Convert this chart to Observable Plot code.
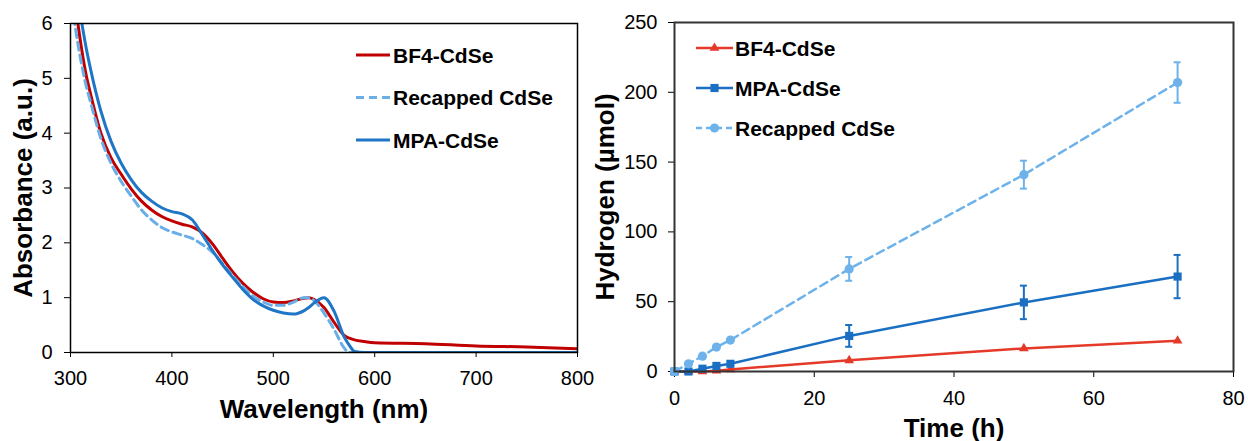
<!DOCTYPE html>
<html>
<head>
<meta charset="utf-8">
<script src="https://cdn.jsdelivr.net/npm/d3@7"></script>
<script src="https://cdn.jsdelivr.net/npm/@observablehq/plot@0.6"></script>
<style>
  body { margin: 0; background: #fff; }
  #chart { position: relative; width: 1248px; height: 441px; font-family: "Liberation Sans", Arial, sans-serif; }
  #chart svg { position: absolute; left: 0; top: 0; }
</style>
</head>
<body>
<div id="chart"></div>
<script>
// ---- Absorption spectra (left panel) ----
const wavelength = [300,305,310,315,320,330,340,350,360,370,380,390,400,410,420,430,440,450,460,470,480,490,500,510,520,530,535,540,550,560,570,575,580,590,600,650,700,750,800];
const bf4Abs = [6.9,6.3,5.65,5.1,4.7,4.0,3.55,3.25,2.98,2.76,2.6,2.48,2.4,2.34,2.29,2.18,1.98,1.72,1.47,1.26,1.1,0.98,0.92,0.91,0.94,0.99,1.0,0.97,0.82,0.55,0.31,0.26,0.23,0.2,0.18,0.16,0.12,0.1,0.07];
const recappedAbs = [6.6,5.9,5.35,4.9,4.55,3.9,3.45,3.12,2.85,2.6,2.42,2.28,2.2,2.14,2.08,1.97,1.83,1.62,1.4,1.2,1.03,0.92,0.86,0.86,0.92,1.0,1.0,0.95,0.72,0.42,0.08,0,0,0,0,0,0,0,0];
const mpaAbs = [7.6,6.9,6.15,5.6,5.15,4.4,3.85,3.45,3.15,2.92,2.76,2.64,2.57,2.53,2.42,2.15,1.86,1.6,1.37,1.15,0.97,0.85,0.77,0.72,0.7,0.76,0.82,0.9,1.0,0.75,0.28,0.13,0.02,0,0,0,0,0,0];
const wavelengthTicks = [300,400,500,600,700,800];
const absorbanceTicks = [0,1,2,3,4,5,6];

// ---- Hydrogen evolution (right panel) ----
const hours = [0,2,4,6,8,25,50,72];
const bf4H2 = [0,0,0,0.5,1.5,8,16.5,22];
const mpaH2 = [0,0,2,4,5.5,25.5,49.5,68];
const mpaErr = [0,0,0,0,0,7.8,12,15.5];
const recappedH2 = [0,5.5,11,17.5,22.5,73.5,141,207];
const recappedErr = [0,0,0,0,0,8.5,10,14.5];
const timeTicks = [0,20,40,60,80];
const hydrogenTicks = [0,50,100,150,200,250];

const specColors = {bf4: "#c00000", recapped: "#6aaee8", mpa: "#1f76c6"};
const h2Colors = {bf4: "#e5392a", mpa: "#1b6fc2", recapped: "#6db2ea"};

const spectrum = vals => wavelength.map((w, i) => ({wl: w, abs: vals[i]}));
const series = (vals, errs) => hours.map((t, i) => ({t, h: vals[i], err: errs ? errs[i] : 0}));
const plain = d => String(d);

const baseStyle = {
  background: "transparent", overflow: "visible",
  fontFamily: "'Liberation Sans', Arial, sans-serif", fontSize: "20px", color: "black"
};
const titleFont = {fontWeight: "bold", fontSize: 26, fill: "black"};

const chart = document.getElementById("chart");

const left = Plot.plot({
  width: 1248, height: 441,
  marginLeft: 70, marginRight: 671, marginTop: 23, marginBottom: 89,
  style: baseStyle,
  x: {domain: [300, 800]},
  y: {domain: [0, 6]},
  marks: [
    Plot.axisX({ticks: wavelengthTicks, tickFormat: plain, tickSize: 5, tickPadding: 13, label: null}),
    Plot.axisY({ticks: absorbanceTicks, tickFormat: plain, tickSize: 6, tickPadding: 12, label: null}),
    Plot.line(spectrum(bf4Abs), {x: "wl", y: "abs", stroke: specColors.bf4, strokeWidth: 3, curve: "monotone-x", clip: true}),
    Plot.line(spectrum(recappedAbs), {x: "wl", y: "abs", stroke: specColors.recapped, strokeWidth: 3, strokeDasharray: "8,5", curve: "monotone-x", clip: true}),
    Plot.line(spectrum(mpaAbs), {x: "wl", y: "abs", stroke: specColors.mpa, strokeWidth: 3, curve: "monotone-x", clip: true}),
    Plot.frame({stroke: "black", strokeWidth: 1.5}),
    Plot.text(["Wavelength (nm)"], {text: d => d, frameAnchor: "bottom", dy: 65, lineAnchor: "bottom", ...titleFont}),
    Plot.text(["Absorbance (a.u.)"], {text: d => d, frameAnchor: "left", textAnchor: "middle", dx: -39, rotate: -90, lineAnchor: "bottom", ...titleFont})
  ]
});
chart.appendChild(left);

const bf4Rows = series(bf4H2);
const mpaRows = series(mpaH2, mpaErr);
const recRows = series(recappedH2, recappedErr);
const errorMarks = (rows, color) => {
  const withErr = rows.filter(d => d.err > 0);
  return [
    Plot.ruleX(withErr, {x: "t", y1: d => d.h - d.err, y2: d => d.h + d.err, stroke: color, strokeWidth: 2}),
    Plot.ruleY(withErr, {y: d => d.h + d.err, x1: "t", x2: "t", insetLeft: -3.5, insetRight: -3.5, stroke: color, strokeWidth: 2}),
    Plot.ruleY(withErr, {y: d => d.h - d.err, x1: "t", x2: "t", insetLeft: -3.5, insetRight: -3.5, stroke: color, strokeWidth: 2})
  ];
};

const right = Plot.plot({
  width: 1248, height: 441,
  marginLeft: 674, marginRight: 15, marginTop: 22, marginBottom: 70,
  style: baseStyle,
  x: {domain: [0, 80]},
  y: {domain: [0, 250]},
  marks: [
    Plot.axisX({ticks: timeTicks, tickFormat: plain, tickSize: 6, tickPadding: 13, label: null}),
    Plot.axisY({ticks: hydrogenTicks, tickFormat: plain, tickSize: 6, tickPadding: 11, label: null}),
    Plot.line(bf4Rows, {x: "t", y: "h", stroke: h2Colors.bf4, strokeWidth: 2.5}),
    Plot.dot(bf4Rows, {x: "t", y: "h", symbol: "triangle", r: 3.6, fill: h2Colors.bf4}),
    Plot.line(mpaRows, {x: "t", y: "h", stroke: h2Colors.mpa, strokeWidth: 2.5}),
    ...errorMarks(mpaRows, h2Colors.mpa),
    Plot.dot(mpaRows, {x: "t", y: "h", symbol: "square", r: 4.6, fill: h2Colors.mpa}),
    Plot.line(recRows, {x: "t", y: "h", stroke: h2Colors.recapped, strokeWidth: 2.5, strokeDasharray: "8,5"}),
    ...errorMarks(recRows, h2Colors.recapped),
    Plot.dot(recRows, {x: "t", y: "h", symbol: "circle", r: 4.6, fill: h2Colors.recapped}),
    Plot.frame({stroke: "#333", strokeWidth: 2}),
    Plot.text(["Time (h)"], {text: d => d, frameAnchor: "bottom", dy: 65, lineAnchor: "bottom", ...titleFont}),
    Plot.text(["Hydrogen (µmol)"], {text: d => d, frameAnchor: "left", textAnchor: "middle", dx: -61, rotate: -90, lineAnchor: "bottom", ...titleFont})
  ]
});
chart.appendChild(right);

// ---- Legends ----
const legend = d3.select(chart).append("svg")
  .attr("width", 1248).attr("height", 441)
  .style("pointer-events", "none")
  .attr("font-family", "'Liberation Sans', Arial, sans-serif")
  .attr("font-weight", "bold").attr("font-size", 21);

const specLegend = [
  {label: "BF4-CdSe", color: specColors.bf4, dash: null},
  {label: "Recapped CdSe", color: specColors.recapped, dash: "8,5"},
  {label: "MPA-CdSe", color: specColors.mpa, dash: null}
];
specLegend.forEach((d, i) => {
  const y = 55 + i * 42.5;
  legend.append("line").attr("x1", 356).attr("x2", 390).attr("y1", y).attr("y2", y)
    .attr("stroke", d.color).attr("stroke-width", 3).attr("stroke-dasharray", d.dash);
  legend.append("text").attr("x", 393).attr("y", y).attr("dy", "0.36em").text(d.label);
});

const h2Legend = [
  {label: "BF4-CdSe", color: h2Colors.bf4, dash: null, symbol: d3.symbolTriangle, r: 3.6},
  {label: "MPA-CdSe", color: h2Colors.mpa, dash: null, symbol: d3.symbolSquare, r: 4.6},
  {label: "Recapped CdSe", color: h2Colors.recapped, dash: "6,4", symbol: d3.symbolCircle, r: 4.6}
];
h2Legend.forEach((d, i) => {
  const y = 48 + i * 40;
  legend.append("line").attr("x1", 696).attr("x2", 733).attr("y1", y).attr("y2", y)
    .attr("stroke", d.color).attr("stroke-width", 2.5).attr("stroke-dasharray", d.dash);
  legend.append("path").attr("transform", `translate(714.5,${y})`)
    .attr("d", d3.symbol(d.symbol, d.r * d.r * Math.PI)()).attr("fill", d.color);
  legend.append("text").attr("x", 735).attr("y", y).attr("dy", "0.36em").text(d.label);
});
</script>
</body>
</html>
